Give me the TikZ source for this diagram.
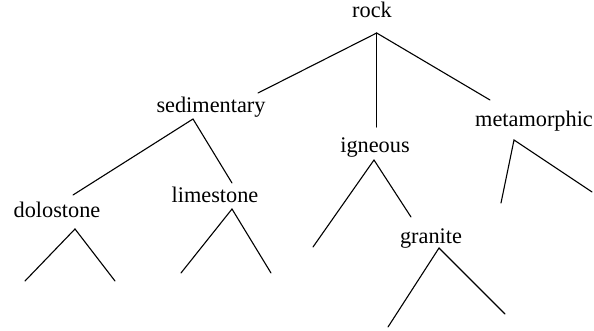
\documentclass[tikz,border=0pt]{standalone}
\usepackage{fontspec}
\setmainfont{Liberation Serif}
\begin{document}
\begin{tikzpicture}[x=1pt,y=-1pt,
  lab/.style={anchor=base,inner sep=0pt,font=\fontsize{22.3}{26}\selectfont},
  edge/.style={line width=1.1pt,line cap=round}]
\useasboundingbox (0,0) rectangle (594,331);
% labels
\node[lab] (rock) at (372,18) {rock};
\node[lab] (sed) at (211,113) {sedimentary};
\node[lab] (ign) at (375,153) {igneous};
\node[lab] (met) at (534,127) {metamorphic};
\node[lab] (dol) at (57,217) {dolostone};
\node[lab] (lim) at (215,203) {limestone};
\node[lab] (gra) at (431,243) {granite};
% apexes
\coordinate (rockA) at (376.7,33);
\coordinate (sedA) at (193,119);
\coordinate (ignA) at (374,160);
\coordinate (metA) at (514,140);
\coordinate (dolA) at (75,229);
\coordinate (limA) at (232,209);
\coordinate (graA) at (439,248);
% free ends
\coordinate (rockL) at (258,93);
\coordinate (rockM) at (376.7,127);
\coordinate (rockR) at (490,100);
\coordinate (sedL) at (73,195);
\coordinate (sedR) at (232,183);
\coordinate (ignL) at (313,247);
\coordinate (ignR) at (411,217);
\coordinate (metL) at (501,203);
\coordinate (metR) at (592,192);
\coordinate (dolL) at (25,281);
\coordinate (dolR) at (115,281);
\coordinate (limL) at (181,273);
\coordinate (limR) at (271,273);
\coordinate (graL) at (388,327);
\coordinate (graR) at (505,314);
% connectors
\draw[edge] (rockL) -- (rockA) -- (rockR);
\draw[edge] (rockA) -- (rockM);
\draw[edge] (sedL) -- (sedA) -- (sedR);
\draw[edge] (ignL) -- (ignA) -- (ignR);
\draw[edge] (metL) -- (metA) -- (metR);
\draw[edge] (dolL) -- (dolA) -- (dolR);
\draw[edge] (limL) -- (limA) -- (limR);
\draw[edge] (graL) -- (graA) -- (graR);
\end{tikzpicture}
\end{document}
